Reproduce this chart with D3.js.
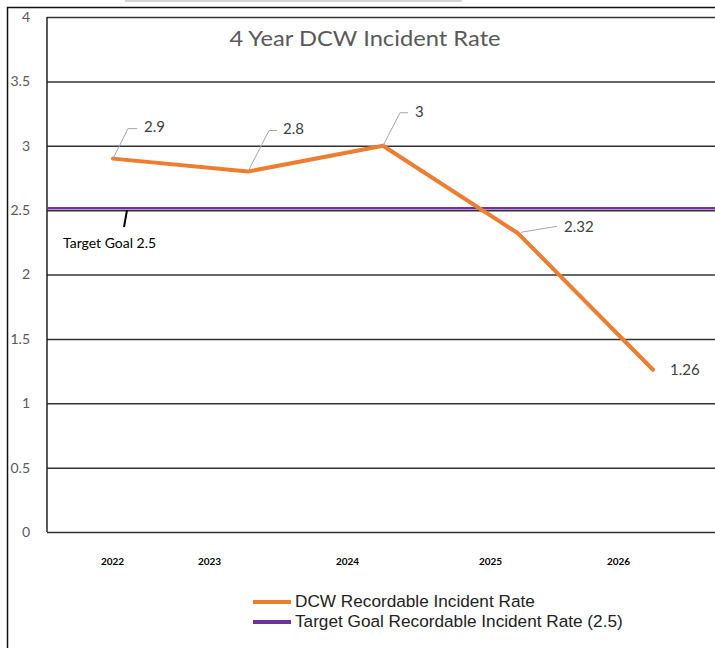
<!DOCTYPE html>
<html><head><meta charset="utf-8">
<script src="https://cdn.jsdelivr.net/npm/d3@7"></script>
<style>body{margin:0;background:#fff}svg{display:block}</style>
</head><body><svg id="c" width="715" height="648"></svg>
<script>
// ---- data ----
const categories = ["2022", "2023", "2024", "2025", "2026"];
const incidentRate = [2.9, 2.8, 3, 2.32, 1.26];
const targetGoal = 2.5;
const yTicks = [0, 0.5, 1, 1.5, 2, 2.5, 3, 3.5, 4];
const yTickLabels = ["0", "0.5", "1", "1.5", "2", "2.5", "3", "3.5", "4"];
const seriesNames = ["DCW Recordable Incident Rate", "Target Goal Recordable Incident Rate (2.5)"];
const titleText = "4 Year DCW Incident Rate";
const targetNote = "Target Goal 2.5";

// ---- layout ----
const W = 715, H = 648;
const plot = {left: 47, top: 17, bottom: 532, right: 715};
const ORANGE = "#ED7D31", PURPLE = "#7030A0";
const svg = d3.select("#c");

const x = d3.scalePoint().domain(categories).range([45.5, 720.5]).padding(0.5);
const y = d3.scaleLinear().domain([0, 4]).range([plot.bottom, plot.top]);

// faint strip at very top
svg.append("rect").attr("x", 125).attr("y", 0).attr("width", 337).attr("height", 2).attr("fill", "#d4d4d4");
// outer frame
svg.append("path").attr("d", `M7.5,${H} V7.5 H${W}`).attr("fill", "none").attr("stroke", "#111").attr("stroke-width", 1.5);

// gridlines + y tick labels
const yAxis = d3.axisLeft(y).tickValues(yTicks)
  .tickFormat((d, i) => yTickLabels[i])
  .tickSize(-(plot.right - plot.left)).tickPadding(17);
const gy = svg.append("g").attr("transform", `translate(${plot.left},0)`).call(yAxis);
gy.select(".domain").remove();
gy.selectAll(".tick line").attr("stroke", "#333").attr("stroke-width", 1.5);
gy.selectAll(".tick text").attr("fill", "#595959").attr("font-family", "Lato, Calibri, sans-serif").attr("font-size", 14);

// left plot edge
svg.append("line").attr("x1", plot.left).attr("x2", plot.left).attr("y1", plot.top).attr("y2", plot.bottom)
  .attr("stroke", "#222").attr("stroke-width", 1.5);

// x labels
const labelNudge = [-1, -39, -36, -28, -35];
const xAxis = d3.axisBottom(x).tickSize(0).tickPadding(26);
const gx = svg.append("g").attr("transform", `translate(0,${plot.bottom})`).call(xAxis);
gx.select(".domain").remove();
gx.selectAll(".tick text").attr("fill", "#000").attr("font-family", "Lato, sans-serif")
  .attr("font-size", 10).attr("font-weight", 700)
  .attr("dx", (d, i) => labelNudge[i]);

// title
svg.append("text").attr("transform", "translate(365,46) scale(1.13,1)").attr("text-anchor", "middle")
  .attr("font-family", "Lato, Calibri, sans-serif").attr("font-size", 21).attr("fill", "#595959")
  .text(titleText);

// target line
svg.append("line").attr("x1", plot.left).attr("x2", plot.right)
  .attr("y1", y(targetGoal) - 2).attr("y2", y(targetGoal) - 2)
  .attr("stroke", PURPLE).attr("stroke-width", 2.5);

// target note with tick mark
svg.append("line").attr("x1", 127).attr("y1", y(targetGoal)).attr("x2", 124).attr("y2", y(targetGoal) + 17)
  .attr("stroke", "#000").attr("stroke-width", 2);
svg.append("text").attr("x", 63).attr("y", 244).attr("dominant-baseline", "middle")
  .attr("font-family", "Lato, Calibri, sans-serif").attr("font-size", 14).attr("fill", "#000")
  .text(targetNote);

// main series
const pts = categories.map((c, i) => ({c, v: incidentRate[i]}));
svg.append("path").datum(pts)
  .attr("d", d3.line().x(d => x(d.c)).y(d => y(d.v)))
  .attr("fill", "none").attr("stroke", ORANGE).attr("stroke-width", 4)
  .attr("stroke-linejoin", "round").attr("stroke-linecap", "round");

// data labels with leader lines (offsets relative to point)
const lblStyle = [
  {leader: [[0, 0], [15, -30], [24, -30]], t: [31, -30]},
  {leader: [[0, 0], [21, -41], [29, -41]], t: [35, -41]},
  {leader: [[0, 0], [17, -33], [25, -33]], t: [32, -33]},
  {leader: [[3, -1], [39, -7]], t: [46, -5]},
  {leader: null, t: [17, 1]}
];
pts.forEach((d, i) => {
  const px = x(d.c), py = y(d.v), s = lblStyle[i];
  if (s.leader) {
    svg.append("path").attr("d", d3.line()(s.leader.map(p => [px + p[0], py + p[1]])))
      .attr("fill", "none").attr("stroke", "#a6a6a6").attr("stroke-width", 1);
  }
  svg.append("text").attr("x", px + s.t[0]).attr("y", py + s.t[1]).attr("dominant-baseline", "middle")
    .attr("font-family", "Lato, Calibri, sans-serif").attr("font-size", 15).attr("fill", "#404040")
    .text(String(d.v));
});

// legend
const legend = svg.append("g").attr("transform", "translate(253,602)");
[ORANGE, PURPLE].forEach((col, i) => {
  const g = legend.append("g").attr("transform", `translate(0,${i * 20})`);
  g.append("line").attr("x1", 0).attr("x2", 38).attr("stroke", col).attr("stroke-width", 4);
  g.append("text").attr("x", 42).attr("dominant-baseline", "middle")
    .attr("font-family", "'Liberation Sans', Arial, sans-serif").attr("font-size", 17.2).attr("fill", "#222")
    .text(seriesNames[i]);
});
</script>
</body></html>
